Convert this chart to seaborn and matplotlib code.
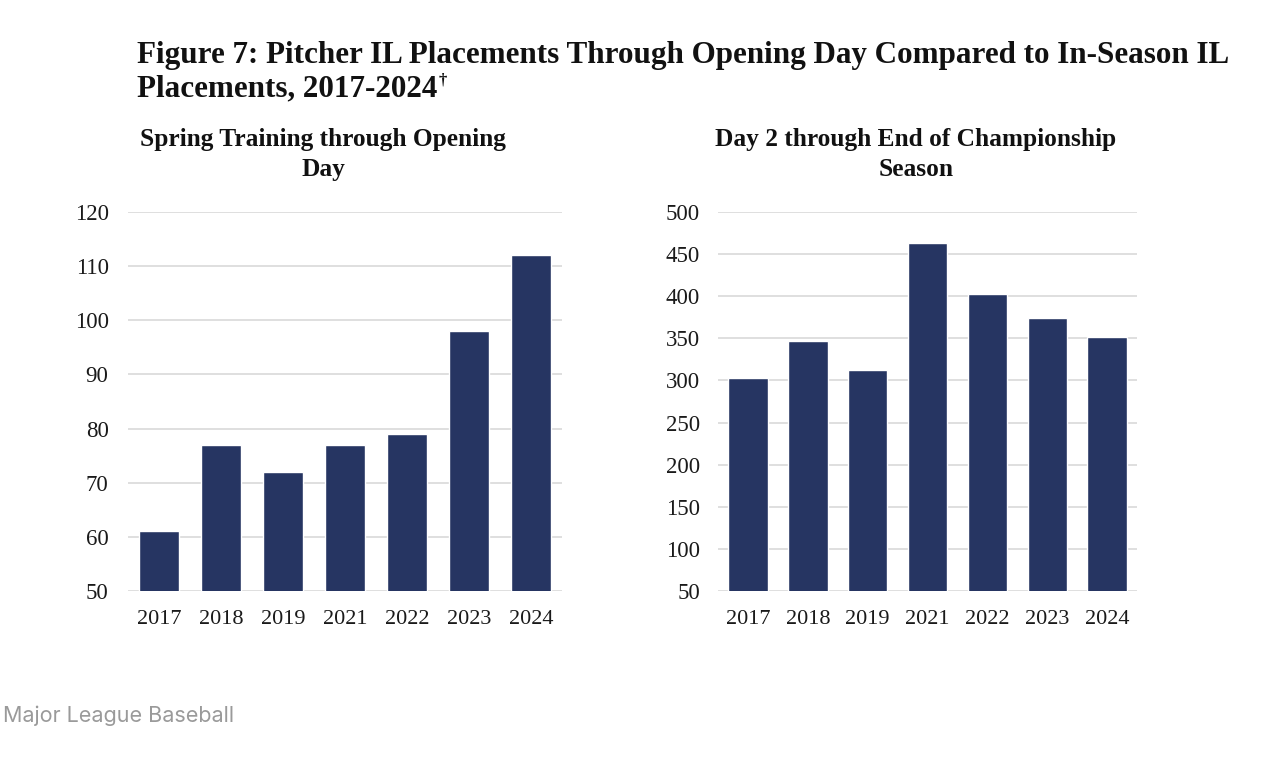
import matplotlib
matplotlib.use("Agg")
import matplotlib.pyplot as plt
import seaborn as sns
import pandas as pd

# values
years = ["2017", "2018", "2019", "2021", "2022", "2023", "2024"]
spring_training = [61, 77, 72, 77, 79, 98, 112]
in_season = [303, 347, 312, 463, 403, 374, 352]

left_ticks = list(range(50, 121, 10))
right_ticks = list(range(50, 501, 50))

bar_color = "#263562"
grid_color = "#d9d9d9"

sns.set_theme(style="white")
plt.rcParams["font.family"] = ["Liberation Serif", "DejaVu Serif"]

fig = plt.figure(figsize=(12.7, 7.62), dpi=100)
ax1 = fig.add_axes([0.1008, 0.2244, 0.3417, 0.4974])
ax2 = fig.add_axes([0.5654, 0.2244, 0.33, 0.4974])


def draw_panel(ax, values, ticks, ypad):
    df = pd.DataFrame({"year": years, "count": values})
    sns.barplot(data=df, x="year", y="count", color=bar_color, saturation=1,
                width=0.66, ax=ax)
    ax.set_ylim(ticks[0], ticks[-1])
    ax.set_yticks(ticks)
    ax.set_xlim(-0.5, len(years) - 0.5)
    ax.grid(axis="y", color=grid_color, linewidth=1.2)
    ax.set_axisbelow(True)
    for s in ax.spines.values():
        s.set_visible(False)
    ax.set_xlabel("")
    ax.set_ylabel("")
    ax.tick_params(axis="x", length=0, pad=14, labelsize=16, colors="#1a1a1a")
    ax.tick_params(axis="y", length=0, pad=ypad, labelsize=16.5, colors="#1a1a1a")


draw_panel(ax1, spring_training, left_ticks, 14)
draw_panel(ax2, in_season, right_ticks, 13)

# main title, two lines
title_kw = dict(fontsize=22.4, fontweight="bold", color="#111111", va="baseline", ha="left")
fig.text(137 / 1270, 1 - 63 / 762,
         "Figure 7: Pitcher IL Placements Through Opening Day Compared to In-Season IL",
         **title_kw)
line2 = fig.text(137 / 1270, 1 - 96 / 762, "Placements, 2017-2024", **title_kw)

fig.canvas.draw()
bb = line2.get_window_extent()
fig.text(bb.x1 / 1270 + 0.001, 1 - 85 / 762, "\u2020", fontsize=12, fontweight="bold",
         color="#111111", va="baseline", ha="left")

# panel titles
sub_kw = dict(fontsize=18.3, fontweight="bold", color="#111111", va="baseline", ha="center")
fig.text(323 / 1270, 1 - 146 / 762, "Spring Training through Opening", **sub_kw)
fig.text(323 / 1270, 1 - 176 / 762, "Day", **sub_kw)
fig.text(916 / 1270, 1 - 146 / 762, "Day 2 through End of Championship", **sub_kw)
fig.text(916 / 1270, 1 - 176 / 762, "Season", **sub_kw)

# source footer
fig.text(3 / 1270, 1 - 722 / 762, "Major League Baseball", fontsize=15.5,
         family=["Inter", "DejaVu Sans"], color="#9a9a9a", va="baseline", ha="left")

fig.savefig("out.png", dpi=100)
